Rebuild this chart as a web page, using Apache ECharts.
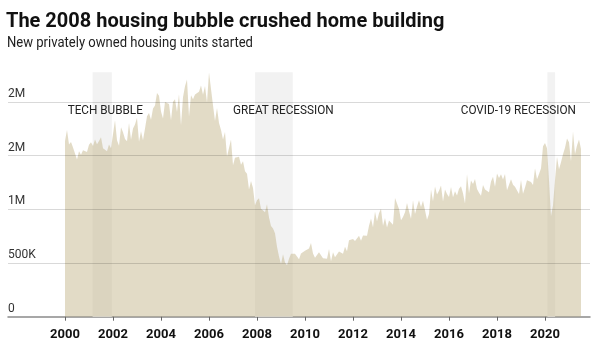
<!DOCTYPE html>
<html>
<head>
<meta charset="utf-8">
<script src="https://cdn.jsdelivr.net/npm/echarts@6/dist/echarts.min.js"></script>
<style>
html,body{margin:0;padding:0;background:#fff;}
#chart{width:600px;height:355px;}
</style>
</head>
<body>
<div id="chart"></div>
<script>
// ---- Data (thousands of units, seasonally adjusted annual rate), monthly from Jan 2000 ----
var firstYear = 2000;
var starts2000 = [1636, 1737, 1604, 1626, 1575, 1559, 1463, 1541, 1507, 1549, 1551, 1532];
var starts2001 = [1600, 1625, 1590, 1649, 1605, 1636, 1670, 1567, 1562, 1540, 1602, 1568];
var starts2002 = [1698, 1829, 1642, 1592, 1764, 1717, 1655, 1633, 1804, 1648, 1753, 1788];
var starts2003 = [1853, 1629, 1726, 1643, 1751, 1867, 1897, 1833, 1939, 1967, 2083, 2057];
var starts2004 = [1911, 1846, 1998, 2003, 1981, 1828, 2002, 2024, 1905, 2072, 1782, 2042];
var starts2005 = [2144, 2207, 1864, 2061, 2025, 2068, 2054, 2095, 2151, 2065, 2147, 1994];
var starts2006 = [2273, 2119, 1969, 1821, 1942, 1802, 1737, 1650, 1720, 1491, 1570, 1649];
var starts2007 = [1409, 1480, 1495, 1490, 1415, 1448, 1354, 1330, 1183, 1264, 1197, 1037];
var starts2008 = [1084, 1103, 1005, 1013, 973, 1046, 923, 844, 820, 777, 652, 560];
var starts2009 = [490, 582, 505, 478, 540, 585, 594, 586, 585, 534, 588, 581];
var starts2010 = [614, 604, 636, 687, 588, 549, 546, 599, 594, 543, 545, 539];
var starts2011 = [630, 517, 600, 554, 561, 608, 623, 585, 650, 610, 711, 694];
var starts2012 = [723, 704, 695, 753, 708, 757, 740, 754, 847, 915, 833, 976];
var starts2013 = [888, 962, 1005, 847, 919, 830, 895, 883, 855, 1105, 1091, 1003];
var starts2014 = [897, 929, 972, 1059, 981, 911, 1083, 955, 1025, 1085, 1021, 1079];
var starts2015 = [1094, 903, 956, 1183, 1075, 1211, 1137, 1172, 1222, 1073, 1183, 1142];
var starts2016 = [1114, 1208, 1113, 1167, 1128, 1192, 1215, 1150, 1054, 1328, 1149, 1268];
var starts2017 = [1236, 1282, 1189, 1153, 1126, 1225, 1185, 1172, 1158, 1259, 1303, 1210];
var starts2018 = [1334, 1290, 1327, 1276, 1329, 1177, 1184, 1280, 1229, 1209, 1217, 1142];
var starts2019 = [1273, 1145, 1203, 1270, 1270, 1253, 1225, 1381, 1280, 1329, 1379, 1586];
var starts2020 = [1617, 1567, 1269, 934, 1038, 1273, 1487, 1373, 1438, 1513, 1573, 1658];
var starts2021 = [1625, 1447, 1725, 1514, 1594, 1650, 1562];

var yearlyStarts = [starts2000, starts2001, starts2002, starts2003, starts2004, starts2005,
  starts2006, starts2007, starts2008, starts2009, starts2010, starts2011, starts2012,
  starts2013, starts2014, starts2015, starts2016, starts2017, starts2018, starts2019,
  starts2020, starts2021];

// Recession periods (decimal years) and their labels
var recessions = [[2001.15, 2001.95], [2007.92, 2009.49], [2020.10, 2020.42]];
var recessionLabels = ['TECH BUBBLE', 'GREAT RECESSION', 'COVID-19 RECESSION'];
var recessionLabelAnchors = [[2000.11, 1916000, 'left'], [2007.00, 1916000, 'left'], [2021.29, 1916000, 'right']];

// Axis ticks
var xTickValues = [2000, 2002, 2004, 2006, 2008, 2010, 2012, 2014, 2016, 2018, 2020];
var yTickValues = [0, 500000, 1000000, 1500000, 2000000];
var yTickLabels = ['0', '500K', '1M', '2M', '2M'];

// ---- Build series data ----
var seriesData = [];
yearlyStarts.forEach(function (arr, yi) {
  arr.forEach(function (v, mi) {
    seriesData.push([firstYear + yi + mi / 12, v * 1000]);
  });
});

var chart = echarts.init(document.getElementById('chart'), null, {renderer: 'canvas'});
chart.setOption({
  animation: false,
  backgroundColor: '#ffffff',
  title: [
    {
      text: 'The 2008 housing bubble crushed home building',
      left: 6, top: 12, padding: 0,
      textStyle: {fontFamily: 'Roboto', fontWeight: 'bold', fontSize: 20, color: '#111111'}
    }
  ],
  grid: {left: 8, right: 10, top: 72.3, bottom: 38.3, containLabel: false},
  xAxis: {
    type: 'value',
    min: 1997.625,
    max: 2021.875,
    axisLine: {show: true, lineStyle: {color: '#8a8a8a', width: 1.5}},
    axisTick: {show: true, customValues: xTickValues, length: 4, lineStyle: {color: '#666666', width: 1}},
    axisLabel: {
      show: true, customValues: xTickValues, margin: 12,
      formatter: function (v) { return String(Math.round(v)); },
      fontFamily: 'Roboto', fontWeight: 'bold', fontSize: 13, color: '#111111'
    },
    splitLine: {show: false}
  },
  yAxis: {
    type: 'value',
    min: 0,
    max: 2275000,
    axisLine: {show: false},
    axisTick: {show: false},
    splitLine: {show: false},
    axisLabel: {
      show: true, inside: true, customValues: yTickValues, margin: 0,
      align: 'left', verticalAlign: 'bottom', padding: [0, 0, 2, 0],
      formatter: function (v) {
        var i = yTickValues.indexOf(v);
        return i >= 0 ? yTickLabels[i] : '';
      },
      fontFamily: 'Roboto', fontSize: 12, color: '#333333'
    }
  },
  series: [{
    type: 'line',
    data: seriesData,
    showSymbol: false,
    symbol: 'none',
    lineStyle: {width: 0},
    areaStyle: {color: 'rgba(192,177,131,0.46)', opacity: 1},
    silent: true,
    z: 2,
    markArea: {
      silent: true,
      itemStyle: {color: '#f2f2f2'},
      data: recessions.map(function (r) { return [{xAxis: r[0]}, {xAxis: r[1]}]; })
    },
    markLine: {
      silent: true,
      symbol: 'none',
      label: {show: false},
      lineStyle: {type: 'solid', width: 1, color: 'rgba(0,0,0,0.15)'},
      data: yTickValues.slice(1).map(function (v) { return {yAxis: v}; })
    }
  }]
});

// Condensed-looking texts (subtitle and recession annotations), anchored via the chart's scales
var graphics = [{
  type: 'text',
  x: 7, y: 43.5,
  scaleX: 0.87,
  style: {
    text: 'New privately owned housing units started',
    x: 0, y: 0,
    fontFamily: 'Roboto', fontSize: 15, fill: '#222222',
    textAlign: 'left', textVerticalAlign: 'middle'
  }
}];
recessionLabelAnchors.forEach(function (a, i) {
  var p = chart.convertToPixel({gridIndex: 0}, [a[0], a[1]]);
  graphics.push({
    type: 'text',
    x: p[0], y: p[1],
    scaleX: 0.94,
    z: 10,
    style: {
      text: recessionLabels[i],
      x: 0, y: 0,
      fontFamily: 'Roboto', fontSize: 12.5, fill: '#222222',
      textAlign: a[2], textVerticalAlign: 'middle'
    }
  });
});
chart.setOption({graphic: graphics});
</script>
</body>
</html>
